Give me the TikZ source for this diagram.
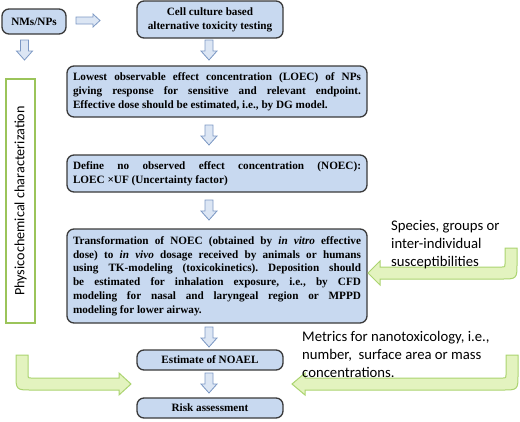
\documentclass[tikz,border=0pt]{standalone}
\usepackage{fontspec}
\setmainfont{Liberation Serif}
\newfontfamily\calib{Carlito}
\frenchspacing
\definecolor{boxfill}{HTML}{C8D9F0}
\definecolor{boxline}{HTML}{3A3A3A}
\definecolor{barfill}{HTML}{DCE6F4}
\definecolor{barline}{HTML}{7C98C4}
\definecolor{gfill}{HTML}{E3F3BF}
\definecolor{gline}{HTML}{ABD470}
\definecolor{gframe}{HTML}{9BC45A}
\begin{document}
\begin{tikzpicture}[x=1pt,y=-1pt,
  box/.style={draw=boxline, line width=1.3pt, fill=boxfill, rounded corners=7pt,
    inner sep=0pt, font=\bfseries\fontsize{11.2}{13.8}\selectfont},
  wide/.style={box, minimum width=300pt, text width=288pt, align=justify},
  narrow/.style={box, minimum width=146pt, align=center},
  barrow/.style={draw=barline, line width=0.8pt, fill=barfill, line join=miter},
  garrow/.style={draw=gline, line width=1pt, fill=gfill},
  sidetext/.style={inner sep=0pt, anchor=north west, align=left,
    font=\calib\fontsize{14.7}{18}\selectfont},
  downarr/.pic={\draw[barrow] (-4,0) -- (4,0) -- (4,11) -- (8,11) -- (0,20)
    -- (-8,11) -- (-4,11) -- cycle;}
]
\useasboundingbox (0,0) rectangle (520,421);

% boxes
\node[box, minimum width=64pt, minimum height=25pt] (nm) at (34,21.5) {NMs/NPs};
\node[narrow, minimum height=37pt] (cell) at (210,19.5)
  {Cell culture based\\alternative toxicity testing};
\node[wide, minimum height=51pt] (loec) at (217,91.5)
  {Lowest observable effect concentration (LOEC) of NPs\linebreak
   giving response for sensitive and relevant endpoint.\linebreak
   Effective dose should be estimated, i.e., by DG model.};
\node[wide, minimum height=37pt] (noec) at (217,173.5)
  {Define no observed effect concentration (NOEC):\linebreak
   LOEC ×UF (Uncertainty factor)};
\node[wide, minimum height=94pt] (trans) at (217,276)
  {Transformation of NOEC (obtained by \textit{in vitro} effective\linebreak
   dose) to \textit{in vivo} dosage received by animals or humans\linebreak
   using TK-modeling (toxicokinetics). Deposition should\linebreak
   be estimated for inhalation exposure, i.e., by CFD\linebreak
   modeling for nasal and laryngeal region or MPPD\linebreak
   modeling for lower airway.};
\node[narrow, minimum height=20pt] (noael) at (210,360) {Estimate of NOAEL};
\node[narrow, minimum height=20pt] (risk) at (210,408) {Risk assessment};

% physicochemical frame
\node[draw=gframe, line width=2pt, fill=white, rotate=90, minimum width=244pt,
  minimum height=29pt, inner sep=0pt, font=\calib\fontsize{14.2}{16}\selectfont]
  (phys) at (20.5,201) {Physicochemical characterization};

% blue block arrows
\draw[barrow] (76,17) -- (93,17) -- (93,14) -- (100,20.5) -- (93,27) -- (93,24)
  -- (76,24) -- cycle;
\pic at (24.5,40) {downarr};
\pic at (209,40) {downarr};
\pic at (209,125) {downarr};
\pic at (209,200) {downarr};
\pic at (209,327) {downarr};
\pic at (209,373) {downarr};

% green curved arrows
\draw[garrow] (16,355) -- (16,374) .. controls (16,390) and (16,390) .. (32,390)
  -- (119,390) -- (119,395) -- (131,384) -- (119,373) -- (119,378) -- (31,378)
  .. controls (28,378) and (28,378) .. (28,375) -- (28,355) -- cycle;
\draw[garrow] (517,248) -- (517,263) .. controls (517,279) and (517,279) .. (501,279)
  -- (380,279) -- (380,285) -- (368,273) -- (380,261) -- (380,267) -- (502,267)
  .. controls (505,267) and (505,267) .. (505,264) -- (505,248) -- cycle;
\draw[garrow] (518,355) -- (518,374) .. controls (518,390) and (518,390) .. (502,390)
  -- (305,390) -- (305,395) -- (292,384) -- (305,373) -- (305,378) -- (503,378)
  .. controls (506,378) and (506,378) .. (506,375) -- (506,355) -- cycle;

% side texts
\node[sidetext] (species) at (391,220)
  {Species, groups or\\inter-individual\\susceptibilities};
\node[sidetext] (metrics) at (302,331)
  {Metrics for nanotoxicology, i.e.,\\number,\ \ surface area or mass\\concentrations.};
\end{tikzpicture}
\end{document}
